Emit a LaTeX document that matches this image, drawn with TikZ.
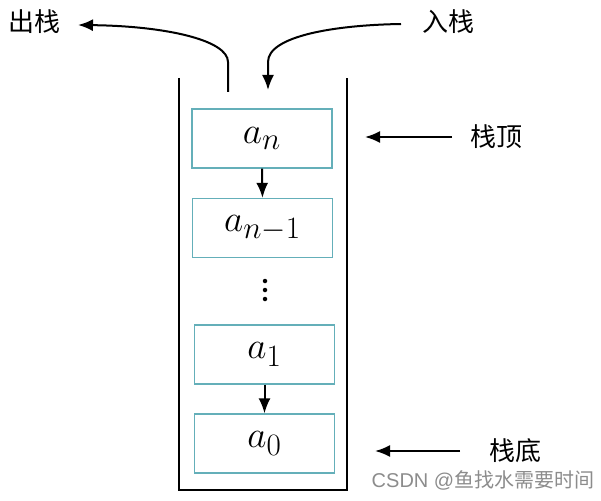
\documentclass[tikz,border=0pt]{standalone}
\usepackage{fontspec}
\newfontfamily\cjk{Noto Sans CJK SC}
\usetikzlibrary{arrows.meta}
\definecolor{boxteal}{RGB}{100,175,185}
\newcommand{\elemtext}[1]{\scalebox{1.5}{\Huge$#1$}}
\tikzset{
  elem/.style={draw=boxteal, line width=1.3pt, minimum width=140pt, minimum height=59pt, inner sep=0pt},
  wall/.style={line width=2.2pt, black},
  arr/.style={line width=2pt, -{Latex[length=15pt,width=12pt]}},
  lab/.style={font=\cjk\fontsize{26}{30}\selectfont, inner sep=0pt},
  dot/.style={circle, fill=black, inner sep=0pt, minimum size=4.5pt}
}
\begin{document}
\begin{tikzpicture}[x=1pt,y=-1pt]
\useasboundingbox (0,0) rectangle (601,500);
% container
\draw[wall] (179,78) -- (179,490) -- (347,490) -- (347,78);
% elements
\node[elem] (an) at (262,138.5) {\elemtext{a_n}};
\node[elem] (an1) at (262.5,228) {\elemtext{a_{n-1}}};
\node[dot] (d1) at (265,281) {};
\node[dot] (d2) at (265,290) {};
\node[dot] (d3) at (265,299) {};
\node[elem] (a1) at (264.5,354.5) {\elemtext{a_1}};
\node[elem] (a0) at (264.5,443.5) {\elemtext{a_0}};
\draw[arr] (an.south) -- (an1.north);
\draw[arr] (a1.south) -- (a0.north);
% labels
\node[lab] (out) at (35,22) {出栈};
\node[lab] (in) at (448,22) {入栈};
\node[lab] (top) at (496,137) {栈顶};
\node[lab] (bot) at (515,451) {栈底};
\node[font=\fontsize{20}{22}\selectfont\fontspec{Liberation Sans}, text=black!45, inner sep=0pt] (wm) at (483,480) {CSDN @{\cjk 鱼找水需要时间}};
% push/pop arrows
\coordinate (popstart) at (228,92);
\coordinate (poptip) at (78,25);
\coordinate (pushstart) at (401,24);
\coordinate (pushend) at (268,90);
\draw[arr] (popstart) -- (228,62) .. controls (228,40) and (165,26) .. (poptip);
\draw[arr] (pushstart) .. controls (335,25) and (268,36) .. (268,62) -- (pushend);
% top / bottom pointers
\coordinate (topt) at (452,137);
\coordinate (toptip) at (365,137);
\coordinate (bott) at (460,451);
\coordinate (bottip) at (375,451);
\draw[arr] (topt) -- (toptip);
\draw[arr] (bott) -- (bottip);
\end{tikzpicture}
\end{document}
